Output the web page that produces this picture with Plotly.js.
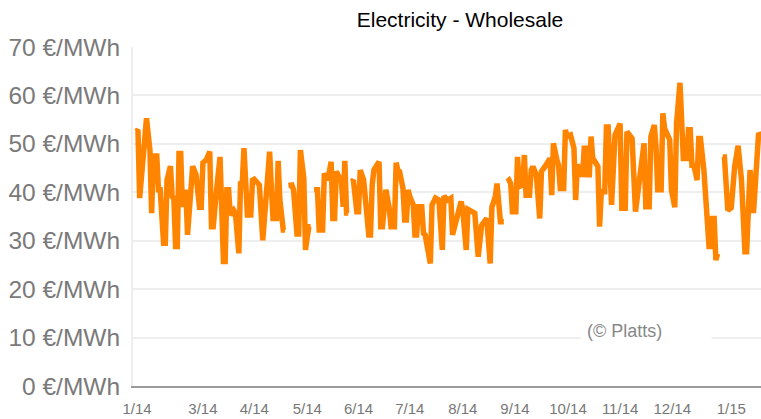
<!DOCTYPE html>
<html>
<head>
<meta charset="utf-8">
<script src="https://cdn.plot.ly/plotly-3.0.1.min.js"></script>
<style>html,body{margin:0;padding:0;background:#fff;}#chart{width:761px;height:419px;}</style>
</head>
<body>
<div id="chart"></div>
<script>
// Day number counted from 1 Jan 2014 (day 0); null marks a gap in the series
const days = [20,21,22,24,26,28,29,30,32,33,34,36,37,38,40,41,42,43,44,45,46,47,49,50,53,55,57,58,59,61,63,64,65,67,69,71,72,73,74,75,77,78,80,81,82,83,84,85,87,88,89,92,94,96,98,99,100,102,103,104,106,107,108,
109,111,112,114,115,116,118,119,120,121,122,123,
124,126,127,129,130,132,134,135,136,137,140,141,142,143,144,145,
146,147,149,150,151,153,156,157,158,159,162,163,164,166,168,169,171,172,173,174,176,177,178,179,180,182,183,184,185,187,188,189,192,193,195,197,199,200,202,204,205,207,210,211,213,214,216,218,220,222,225,227,228,230,231,233,235,236,
237,238,239,240,242,243,244,246,247,248,250,251,252,254,256,257,259,261,262,263,264,266,267,268,270,271,272,274,276,277,278,280,281,282,283,284,285,286,287,288,290,291,292,294,295,296,298,300,303,304,306,307,310,312,314,317,318,320,321,323,324,325,327,328,329,331,332,333,335,336,337,338,340,342,343,344,345,346,347,348,349,350,352,354,355,356,357,358,359,360,361,
363,364,366,368,370,372,374,376,377,379,381,384,386];
const prices = [52.6,52.9,38.8,46.7,55.3,48.7,35.7,47.5,47.5,40.5,40.5,29.5,29.5,42.5,45.4,39.1,38.8,28.8,28.8,48.0,48.0,37.0,40.5,31.2,45.4,43.6,36.9,36.9,46.1,46.7,48.4,32.9,32.9,40.5,47.3,25.7,25.7,40.5,40.5,35.3,36.3,35.7,27.4,42.2,41.8,49.1,42.5,35.3,35.3,42.5,42.7,41.5,30.1,41.2,48.4,41.2,34.6,34.6,46.5,38.4,32.2,32.2,null,
41.4,41.5,40.5,31.4,31.4,48.7,42.9,28.1,30.8,32.9,32.9,null,
40.5,40.5,32.2,32.2,43.9,42.5,46.3,34.6,34.6,44.3,42.2,37.0,46.5,35.7,35.7,null,
42.2,42.5,36.0,36.0,44.6,42.5,31.2,31.2,41.5,44.6,46.3,32.9,32.9,40.5,36.7,32.9,32.9,46.1,44.6,44.3,40.8,34.3,34.3,40.5,39.1,37.4,31.2,31.2,37.0,37.0,31.5,31.2,25.3,37.4,38.8,38.4,28.1,39.2,38.4,38.8,31.2,33.9,38.1,36.3,28.1,36.5,36.0,35.7,26.7,33.2,34.6,25.3,36.9,39.1,41.8,33.9,33.9,null,
42.2,42.5,41.8,36.0,36.0,47.3,41.2,41.5,47.7,39.4,39.4,44.6,45.3,43.6,34.6,44.3,45.3,46.7,47.0,39.4,50.1,46.7,45.6,40.8,40.8,52.9,51.5,51.8,49.1,38.4,45.6,44.6,43.2,49.1,49.1,43.6,43.6,51.5,47.0,46.5,45.3,32.9,40.1,40.1,53.5,53.5,37.4,51.8,54.2,36.7,36.7,52.5,51.1,36.0,41.8,50.1,37.0,37.0,51.5,53.9,49.4,40.5,40.5,56.3,53.2,51.1,50.8,40.5,36.9,54.2,59.1,62.6,47.0,47.0,52.9,52.9,45.6,45.6,44.3,42.5,51.1,51.1,44.6,35.0,28.8,28.8,34.6,34.6,26.0,27.3,null,
47.3,47.3,36.3,36.8,45.3,49.6,42.5,27.7,27.7,44.6,35.7,52.2,51.5];

const tickDays = [20.5,59,89,120,150,180,211,241.5,272.5,303,333.5,368];
const tickLabels = ['1/14','3/14','4/14','5/14','6/14','7/14','8/14','9/14','10/14','11/14','12/14','1/15'];
const yTicks = [0,10,20,30,40,50,60,70];
const yTickLabels = ['0 €/MWh','10 €/MWh','20 €/MWh','30 €/MWh','40 €/MWh','50 €/MWh','60 €/MWh','70 €/MWh'];

const trace = {
  x: days, y: prices, type: 'scatter', mode: 'lines',
  connectgaps: false,
  line: {color: '#ff8400', width: 5.5},
  hoverinfo: 'skip'
};

const layout = {
  width: 761, height: 419,
  margin: {l: 133, r: 0, t: 47, b: 33, pad: 0},
  paper_bgcolor: '#ffffff', plot_bgcolor: '#ffffff',
  font: {family: 'Liberation Sans, Arial, sans-serif', color: '#777777'},
  showlegend: false,
  title: {text: 'Electricity - Wholesale', font: {size: 21, color: '#000000', family: 'Liberation Sans, Arial, sans-serif'},
          x: 460/761, xref: 'container', xanchor: 'center', y: 1 - 20/419, yref: 'container', yanchor: 'middle'},
  xaxis: {
    range: [18.1, 385.4], tickvals: tickDays, ticktext: tickLabels,
    showgrid: false, zeroline: false, showline: true, linecolor: '#9a9a9a', linewidth: 2,
    ticks: '', tickfont: {size: 15, color: '#777777'}, ticklabelstandoff: 8, fixedrange: true
  },
  yaxis: {
    range: [0, 70], tickvals: yTicks, ticktext: yTickLabels,
    showgrid: true, gridcolor: '#eeeeee', gridwidth: 2, zeroline: false,
    showline: true, linecolor: '#eeeeee', linewidth: 2,
    ticks: '', tickfont: {size: 24.5, color: '#7a7a7a'}, ticklabelstandoff: 6, fixedrange: true
  },
  annotations: [{
    text: '(© Platts)', xref: 'paper', yref: 'paper',
    x: (580-133)/628, y: (386-331)/339, xanchor: 'left', yanchor: 'middle',
    showarrow: false, bgcolor: '#ffffff', width: 118, height: 24, borderpad: 6, align: 'left',
    font: {size: 18, color: '#888888', family: 'Liberation Sans, Arial, sans-serif'}
  }]
};

Plotly.newPlot('chart', [trace], layout, {displayModeBar: false, staticPlot: true});
</script>
</body>
</html>
